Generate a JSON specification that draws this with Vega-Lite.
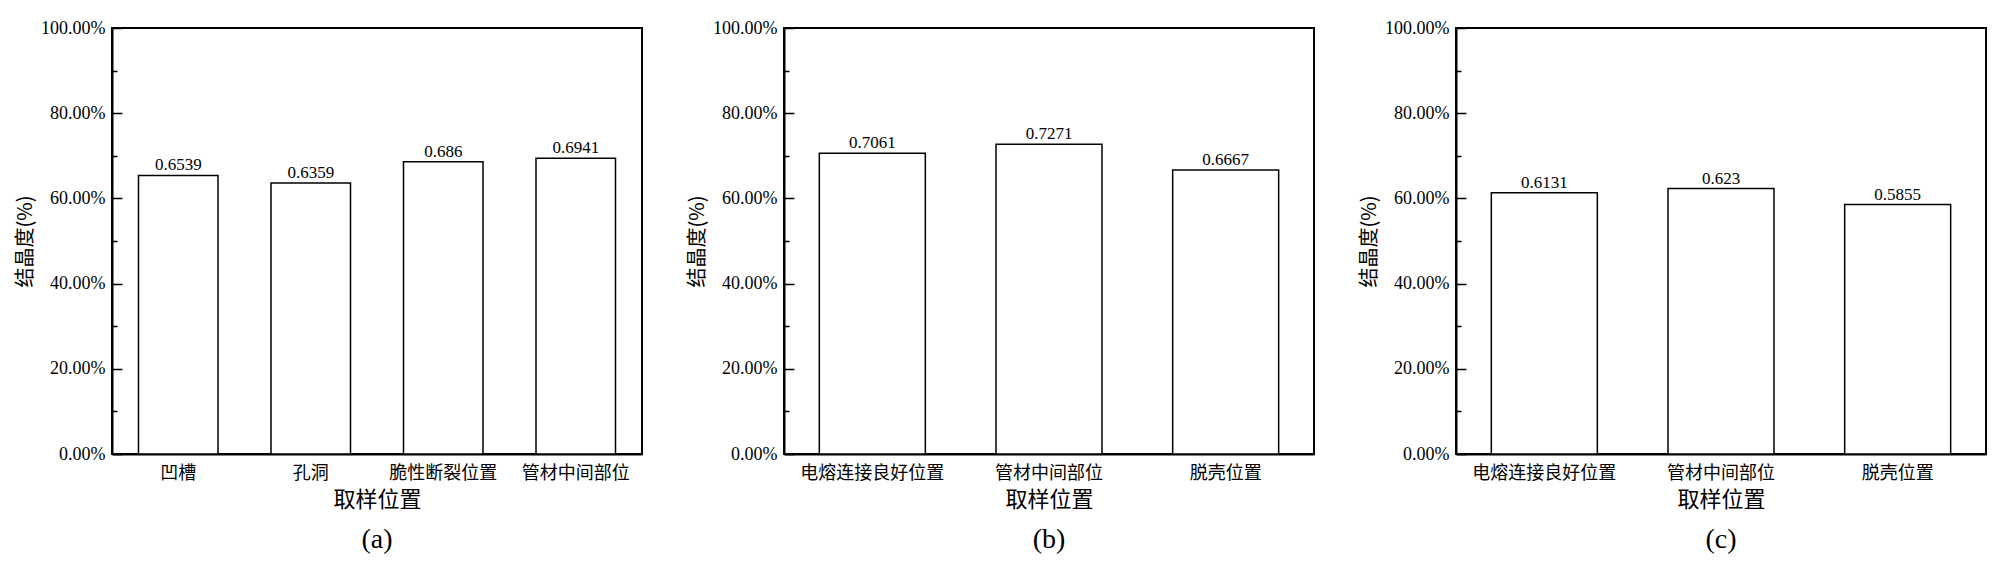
{
  "$schema": "https://vega.github.io/schema/vega-lite/v6.json",
  "background": "white",
  "padding": {"left": 14, "top": 18, "right": 5, "bottom": 5},
  "bounds": "flush",
  "spacing": 142,
  "datasets": {
    "a": [
      {"loc": "凹槽", "val": 0.6539},
      {"loc": "孔洞", "val": 0.6359},
      {"loc": "脆性断裂位置", "val": 0.686},
      {"loc": "管材中间部位", "val": 0.6941}
    ],
    "b": [
      {"loc": "电熔连接良好位置", "val": 0.7061},
      {"loc": "管材中间部位", "val": 0.7271},
      {"loc": "脱壳位置", "val": 0.6667}
    ],
    "c": [
      {"loc": "电熔连接良好位置", "val": 0.6131},
      {"loc": "管材中间部位", "val": 0.623},
      {"loc": "脱壳位置", "val": 0.5855}
    ]
  },
  "hconcat": [
    {
      "width": 530, "height": 426,
      "data": {"name": "a"},
      "title": {"text": "(a)", "orient": "bottom", "font": "Liberation Serif", "fontSize": 28, "fontWeight": "normal", "offset": 16, "color": "black"},
      "encoding": {
        "x": {"field": "loc", "type": "nominal", "sort": null, "scale": {"paddingInner": 0.4, "paddingOuter": 0.2}, "axis": {"title": "取样位置"}},
        "y": {"field": "val", "type": "quantitative", "scale": {"domain": [0, 1], "nice": false}, "axis": {"title": "结晶度(%)"}}
      },
      "layer": [
        {"mark": {"type": "bar", "fill": "white", "stroke": "black", "strokeWidth": 1.5}},
        {"mark": {"type": "text", "baseline": "bottom", "dy": -1, "font": "Liberation Serif", "fontSize": 17, "color": "black"}, "encoding": {"text": {"field": "val", "type": "nominal"}}}
      ]
    },
    {
      "width": 530, "height": 426,
      "data": {"name": "b"},
      "title": {"text": "(b)", "orient": "bottom", "font": "Liberation Serif", "fontSize": 28, "fontWeight": "normal", "offset": 16, "color": "black"},
      "encoding": {
        "x": {"field": "loc", "type": "nominal", "sort": null, "scale": {"paddingInner": 0.4, "paddingOuter": 0.2}, "axis": {"title": "取样位置"}},
        "y": {"field": "val", "type": "quantitative", "scale": {"domain": [0, 1], "nice": false}, "axis": {"title": "结晶度(%)"}}
      },
      "layer": [
        {"mark": {"type": "bar", "fill": "white", "stroke": "black", "strokeWidth": 1.5}},
        {"mark": {"type": "text", "baseline": "bottom", "dy": -1, "font": "Liberation Serif", "fontSize": 17, "color": "black"}, "encoding": {"text": {"field": "val", "type": "nominal"}}}
      ]
    },
    {
      "width": 530, "height": 426,
      "data": {"name": "c"},
      "title": {"text": "(c)", "orient": "bottom", "font": "Liberation Serif", "fontSize": 28, "fontWeight": "normal", "offset": 16, "color": "black"},
      "encoding": {
        "x": {"field": "loc", "type": "nominal", "sort": null, "scale": {"paddingInner": 0.4, "paddingOuter": 0.2}, "axis": {"title": "取样位置"}},
        "y": {"field": "val", "type": "quantitative", "scale": {"domain": [0, 1], "nice": false}, "axis": {"title": "结晶度(%)"}}
      },
      "layer": [
        {"mark": {"type": "bar", "fill": "white", "stroke": "black", "strokeWidth": 1.5}},
        {"mark": {"type": "text", "baseline": "bottom", "dy": -1, "font": "Liberation Serif", "fontSize": 17, "color": "black"}, "encoding": {"text": {"field": "val", "type": "nominal"}}}
      ]
    }
  ],
  "config": {
    "view": {"stroke": "black", "strokeWidth": 2},
    "axis": {
      "domainColor": "black", "domainWidth": 2,
      "tickColor": "black", "tickWidth": 1.5,
      "grid": false,
      "labelColor": "black", "titleColor": "black",
      "titleFont": "Noto Sans CJK SC", "titleFontWeight": "normal"
    },
    "axisX": {
      "labelAngle": 0, "labelFont": "Noto Sans CJK SC", "labelFontSize": 18,
      "tickSize": -8, "labelPadding": 18, "titleFontSize": 22, "titlePadding": 7
    },
    "axisY": {
      "values": [0, 0.1, 0.2, 0.3, 0.4, 0.5, 0.6, 0.7, 0.8, 0.9, 1],
      "labelExpr": "round(datum.value * 10) % 2 == 0 ? format(datum.value, '.2%') : ''",
      "labelFont": "Liberation Serif", "labelFontSize": 18,
      "tickSize": {"condition": {"test": "round(datum.value * 10) % 2 == 0", "value": -10}, "value": -5},
      "labelPadding": 17, "titleFontSize": 20, "titlePadding": 5
    }
  }
}
